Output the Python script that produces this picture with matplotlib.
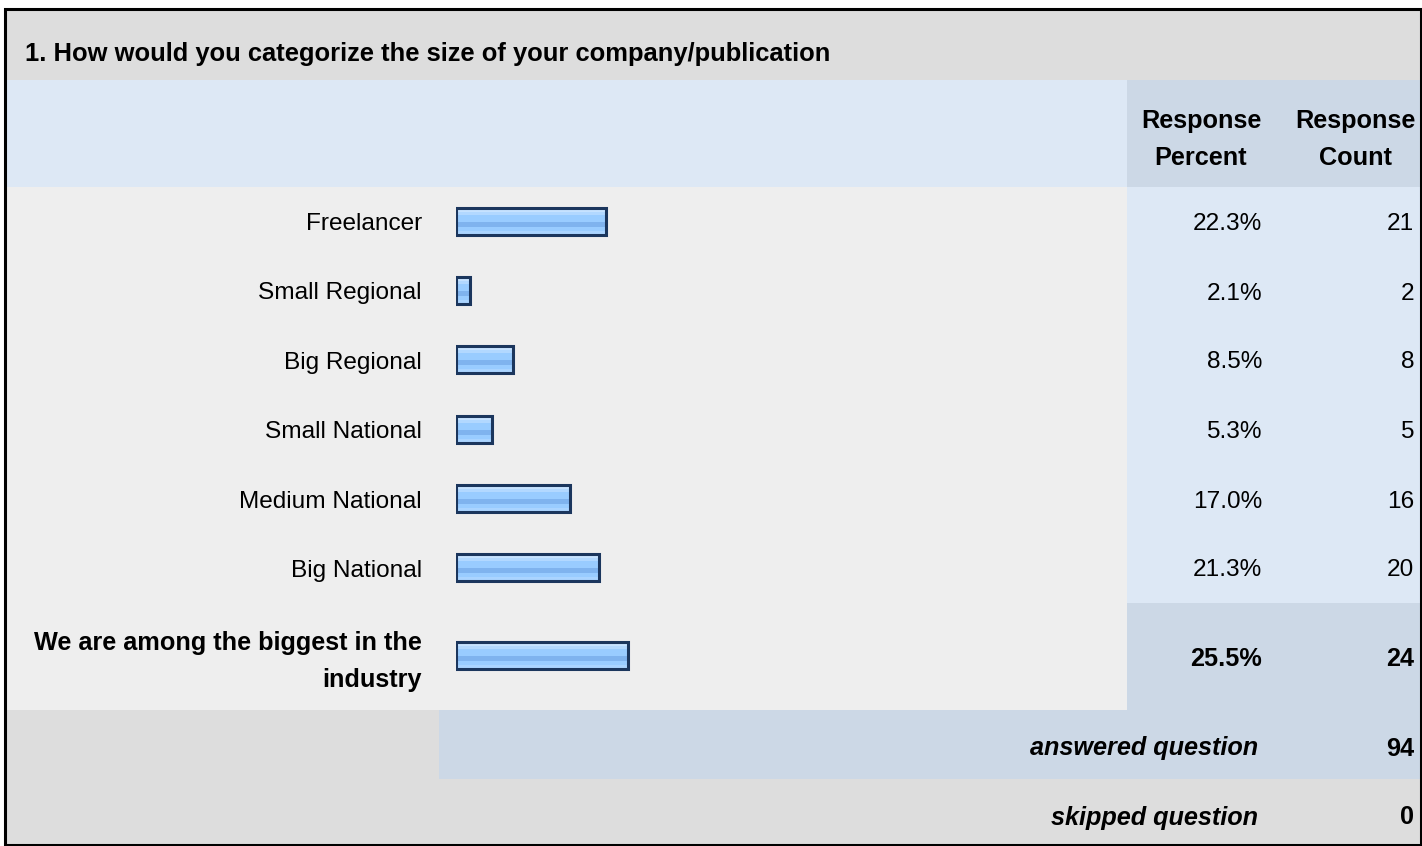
import matplotlib
matplotlib.use("Agg")
import matplotlib.pyplot as plt
from matplotlib.patches import Rectangle

# ---- data ----
question = "1. How would you categorize the size of your company/publication"
categories = ["Freelancer", "Small Regional", "Big Regional", "Small National",
              "Medium National", "Big National", "We are among the biggest in the\nindustry"]
percents = [22.3, 2.1, 8.5, 5.3, 17.0, 21.3, 25.5]
counts = [21, 2, 8, 5, 16, 20, 24]
answered = 94
skipped = 0
col_headers = ["Response\nPercent", "Response\nCount"]

# ---- layout (pixel coordinates) ----
W, H = 1422, 846
FONT = "Liberation Sans"
FS = 17.6
FSB = 18.2
LINE_GAP = 37
TXT_DY = 2.5
row_centers = [222, 291, 360, 430, 499, 568, 659]

fig = plt.figure(figsize=(W / 100, H / 100), dpi=100)
bg = fig.add_axes([0, 0, 1, 1])
bg.set_xlim(0, W)
bg.set_ylim(H, 0)
bg.axis("off")

GRAY_D = "#DDDDDD"
GRAY_L = "#EEEEEE"
BLUE_L = "#DDE8F5"
BLUE_D = "#CCD8E6"

def rect(x0, y0, x1, y1, c):
    bg.add_patch(Rectangle((x0, y0), x1 - x0, y1 - y0, facecolor=c, edgecolor="none"))

rect(5, 9, W, 80, GRAY_D)            # title
rect(5, 80, 1127, 187, BLUE_L)       # header left
rect(1127, 80, W, 187, BLUE_D)       # header right
rect(5, 187, 1127, 710, GRAY_L)      # label/bar area
rect(1127, 187, W, 603, BLUE_L)      # values
rect(1127, 603, W, 710, BLUE_D)      # last row values
rect(5, 710, 439, 779, GRAY_D)
rect(439, 710, W, 779, BLUE_D)       # answered
rect(5, 779, W, H, GRAY_D)           # skipped
bg.add_patch(Rectangle((5, 9), W - 6, H - 10, facecolor="none", edgecolor="black", linewidth=2.2))


def put(x, y, s, ha, bold=False, italic=False, size=None):
    lines = s.split("\n")
    top = y + TXT_DY - LINE_GAP * (len(lines) - 1) / 2
    for k, ln in enumerate(lines):
        bg.text(x, top + k * LINE_GAP, ln, ha=ha, va="center", family=FONT,
                fontsize=size or (FSB if bold else FS), color="black",
                fontweight="bold" if bold else "normal",
                fontstyle="italic" if italic else "normal")


put(25, 51, question, "left", bold=True, size=18.4)
put(1201, 137, col_headers[0], "center", bold=True)
put(1355, 137, col_headers[1], "center", bold=True)

n = len(categories)
for i, (cat, p, c, yc) in enumerate(zip(categories, percents, counts, row_centers)):
    last = i == n - 1
    put(422, yc, cat, "right", bold=last)
    yv = 656 if last else yc
    put(1262, yv, f"{p:.1f}%", "right", bold=last)
    put(1414, yv, f"{c}", "right", bold=last)

put(1258, 746, "answered question", "right", bold=True, italic=True)
put(1414, 746, f"{answered}", "right", bold=True)
put(1258, 815, "skipped question", "right", bold=True, italic=True)
put(1414, 815, f"{skipped}", "right", bold=True)

# ---- bars: x in percent, y in pixel rows ----
x0, x1 = 456, 1129
bar_ax = fig.add_axes([x0 / W, 0, (x1 - x0) / W, 1])
bar_ax.set_xlim(0, 100)
bar_ax.set_ylim(H, 0)
bar_ax.axis("off")
bar_ax.patch.set_alpha(0)

bar_y = row_centers[:-1] + [656]
BH = 27.0
bar_ax.barh(bar_y, percents, height=BH, left=0, color="#99CCFF",
            edgecolor="none", zorder=2)
# gradient stripes: (offset from top, thickness, colour)
stripes = [(0.0, 4.0, "#C6E2FF"), (4.0, 3.0, "#B2D8FF"), (7.0, 7.0, "#99CCFF"),
           (14.0, 5.0, "#7FB3EE"), (19.0, 4.0, "#99CCFF"), (23.0, 4.0, "#AAD4FF")]
for off, th, col in stripes:
    ys = [y - BH / 2 + off + th / 2 for y in bar_y]
    bar_ax.barh(ys, percents, height=th, left=0, color=col, edgecolor="none", zorder=3)
bar_ax.barh(bar_y, percents, height=BH, left=0, color="none",
            edgecolor="#1B365D", linewidth=2.2, zorder=4)

fig.savefig("out.png", dpi=100)
